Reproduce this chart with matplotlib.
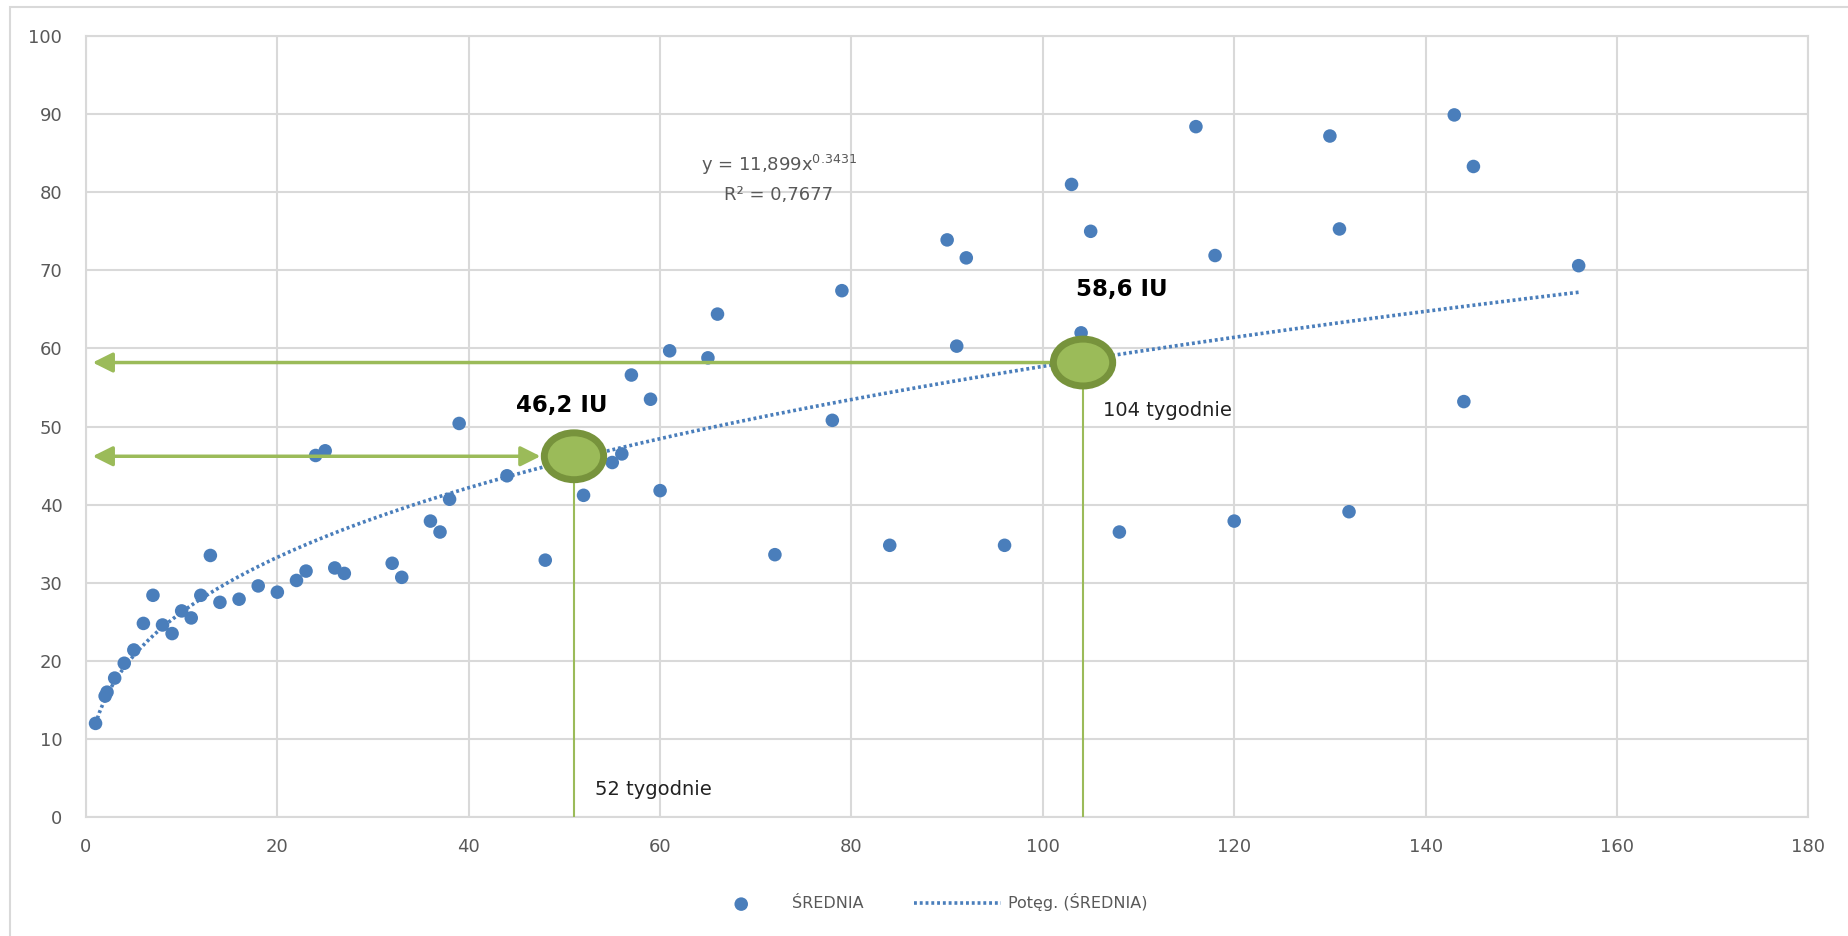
import numpy as np
import matplotlib
matplotlib.use("Agg")
import matplotlib.pyplot as plt
from matplotlib.patches import Ellipse, Rectangle

# dane: tydzien / srednia
tydzien = [1, 2, 2.2, 3, 4, 5, 6, 7, 8, 9, 10, 11, 12, 13, 14, 16, 18, 20, 22, 23,
           24, 25, 26, 27, 32, 33, 36, 37, 38, 39, 44, 48, 52, 55, 56, 57, 59, 60,
           61, 65, 66, 72, 78, 79, 84, 90, 91, 92, 96, 103, 104, 105, 108, 116,
           118, 120, 130, 131, 132, 143, 144, 145, 156]
srednia = [12.0, 15.5, 16.0, 17.8, 19.7, 21.4, 24.8, 28.4, 24.6, 23.5, 26.4, 25.5,
           28.4, 33.5, 27.5, 27.9, 29.6, 28.8, 30.3, 31.5, 46.3, 46.9, 31.9, 31.2,
           32.5, 30.7, 37.9, 36.5, 40.7, 50.4, 43.7, 32.9, 41.2, 45.4, 46.5, 56.6,
           53.5, 41.8, 59.7, 58.8, 64.4, 33.6, 50.8, 67.4, 34.8, 73.9, 60.3, 71.6,
           34.8, 81.0, 62.0, 75.0, 36.5, 88.4, 71.9, 37.9, 87.2, 75.3, 39.1, 89.9,
           53.2, 83.3, 70.6]

# adnotacje (52 i 104 tygodnie)
ann_x = [51.0, 104.2]
ann_y = [46.2, 58.2]
ann_val = ["46,2 IU", "58,6 IU"]
ann_tyg = ["52 tygodnie", "104 tygodnie"]

niebieski = "#4A7EBB"
zielony = "#9BBB59"
ciemny_zielony = "#77933C"
szary = "#595959"

fig = plt.figure(figsize=(18.49, 9.36), dpi=100)
ax = fig.add_axes([0.0465, 0.127, 0.978 - 0.0465, 0.9615 - 0.127])

# ramka wykresu
fig.patches.append(Rectangle((10 / 1849, -0.1), 1.2, 1.1 - 7 / 936,
                             transform=fig.transFigure, fill=False,
                             edgecolor="#D9D9D9", lw=1.5))

ax.scatter(tydzien, srednia, s=95, color=niebieski, zorder=3, label="ŚREDNIA",
           edgecolors="none")

# trend potegowy dopasowany do danych
b, log_a = np.polyfit(np.log(tydzien), np.log(srednia), 1)
xs = np.linspace(min(tydzien), max(tydzien), 400)
ax.plot(xs, np.exp(log_a) * xs ** b, color=niebieski, lw=2.6,
        linestyle=(0, (0.8, 0.8)), zorder=4, label="Potęg. (ŚREDNIA)")

ax.set_xlim(0, 180)
ax.set_ylim(0, 100)
ax.set_xticks(range(0, 181, 20))
ax.set_yticks(range(0, 101, 10))
ax.grid(True, color="#D9D9D9", lw=1.5, zorder=0)
ax.set_axisbelow(True)
for s in ax.spines.values():
    s.set_color("#D9D9D9")
    s.set_linewidth(1.5)
ax.tick_params(length=0, labelsize=13, labelcolor=szary)
ax.tick_params(axis="y", pad=17)
ax.tick_params(axis="x", pad=15)

ew, eh = 6.2, 6.0
for i in range(2):
    ax.plot([ann_x[i], ann_x[i]], [0, ann_y[i]], color=zielony, lw=1.5, zorder=5)
    ax.add_patch(Ellipse((ann_x[i], ann_y[i]), ew, eh, facecolor=zielony,
                         edgecolor=ciemny_zielony, lw=5, zorder=7))

ax.annotate("", xy=(0.7, ann_y[0]), xytext=(ann_x[0] - ew / 2 - 0.4, ann_y[0]),
            arrowprops=dict(arrowstyle="<|-|>,head_length=1.2,head_width=0.6",
                            mutation_scale=10, lw=2.5, color=zielony,
                            shrinkA=0, shrinkB=0), zorder=6)
ax.annotate("", xy=(0.7, ann_y[1]), xytext=(ann_x[1], ann_y[1]),
            arrowprops=dict(arrowstyle="-|>,head_length=1.2,head_width=0.6",
                            mutation_scale=10, lw=2.5, color=zielony,
                            shrinkA=0, shrinkB=0), zorder=6)

ax.text(49.7, 52.7, ann_val[0], fontsize=16.5, fontweight="bold", ha="center",
        va="center", color="black", zorder=8)
ax.text(108.3, 67.6, ann_val[1], fontsize=16.5, fontweight="bold", ha="center",
        va="center", color="black", zorder=8)
ax.text(53.2, 3.5, ann_tyg[0], fontsize=14, ha="left", va="center", color="#222222")
ax.text(106.3, 52.1, ann_tyg[1], fontsize=14, ha="left", va="center", color="#222222")

ax.text(72.4, 83.5, r"y = 11,899x$^{\mathregular{0.3431}}$", fontsize=13, ha="center",
        va="center", color=szary)
ax.text(72.4, 79.6, "R² = 0,7677", fontsize=13, ha="center", va="center", color=szary)

leg = fig.legend(loc="center", bbox_to_anchor=(0.499, 0.036), ncol=2, frameon=False,
                 fontsize=11.5, handlelength=5.4, handletextpad=0.45, columnspacing=3.2)
for t in leg.get_texts():
    t.set_color(szary)

fig.savefig("out.png", dpi=100)
